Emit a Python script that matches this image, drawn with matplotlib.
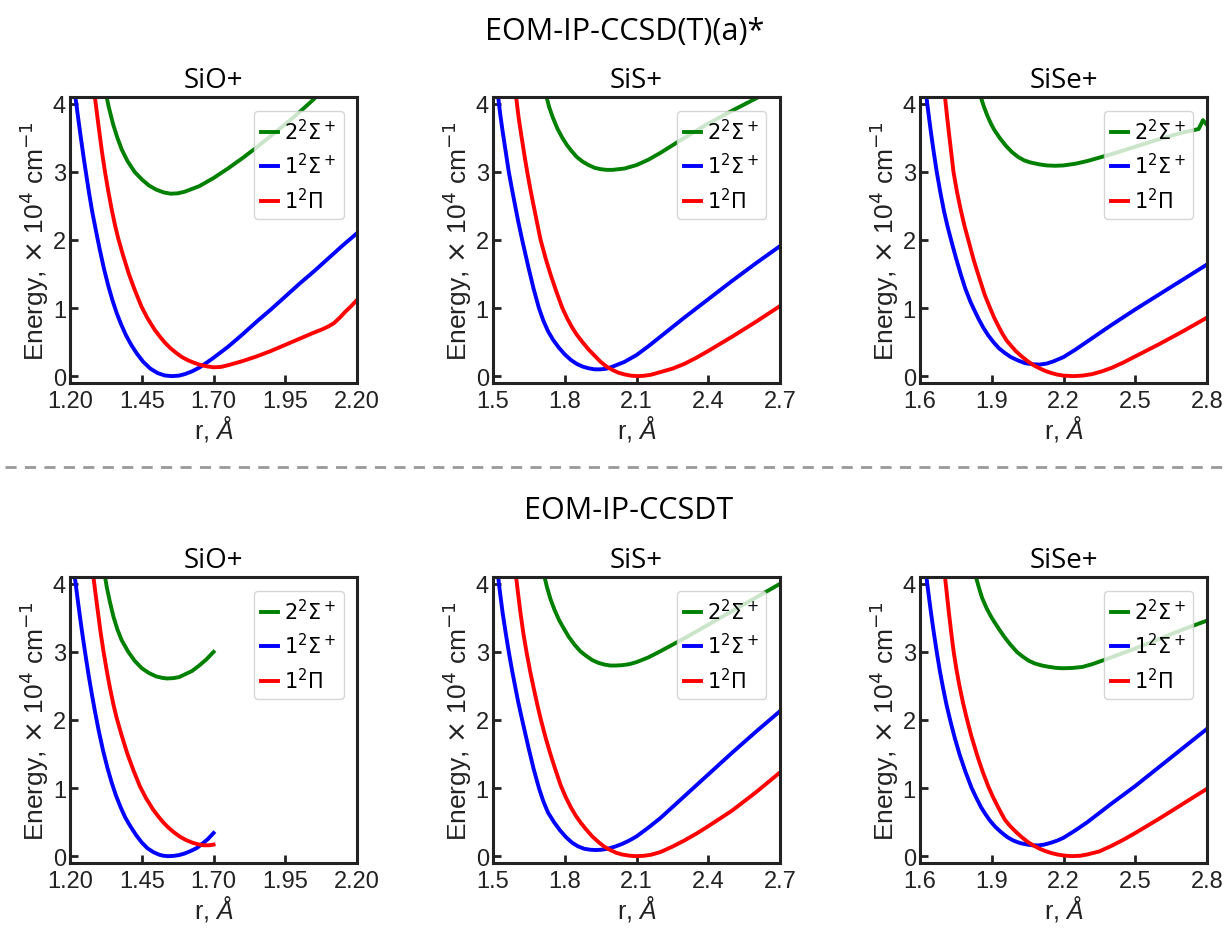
import numpy as np
import matplotlib
matplotlib.use('Agg')
import matplotlib.pyplot as plt
from matplotlib.font_manager import FontProperties

plt.rcParams['font.family'] = ['Liberation Sans', 'DejaVu Sans']
plt.rcParams['mathtext.fontset'] = 'custom'
plt.rcParams['mathtext.rm'] = 'Liberation Sans'
plt.rcParams['mathtext.it'] = 'Liberation Sans:italic'

# ---- data: r in Angstrom, E in 1e4 cm^-1 ----
# EOM-IP-CCSD(T)(a)*  SiO+
r_sio_a_g = [1.325, 1.335, 1.35, 1.365, 1.38, 1.40, 1.425, 1.45, 1.475, 1.50, 1.525, 1.55, 1.575, 1.60, 1.65,
             1.70, 1.75, 1.80, 1.85, 1.90, 1.95, 2.00, 2.05, 2.06]
e_sio_a_g = [4.15, 3.95, 3.70, 3.50, 3.33, 3.16, 3.00, 2.89, 2.80, 2.74, 2.70, 2.68, 2.685, 2.71, 2.79,
             2.91, 3.05, 3.20, 3.36, 3.53, 3.70, 3.88, 4.07, 4.12]
r_sio_a_b = [1.217, 1.227, 1.237, 1.247, 1.257, 1.267, 1.277, 1.29, 1.303, 1.318, 1.333, 1.348, 1.363, 1.378,
             1.395, 1.413, 1.433, 1.455, 1.48, 1.505, 1.53, 1.555, 1.58, 1.60, 1.625, 1.65, 1.675, 1.70, 1.725,
             1.75, 1.80, 1.85, 1.90, 1.95, 2.00, 2.05, 2.10, 2.15, 2.20]
e_sio_a_b = [4.15, 3.83, 3.52, 3.22, 2.94, 2.67, 2.42, 2.14, 1.87, 1.58, 1.33, 1.11, 0.92, 0.76,
             0.60, 0.46, 0.33, 0.21, 0.11, 0.045, 0.01, 0.0, 0.008, 0.03, 0.07, 0.125, 0.195, 0.27, 0.35,
             0.43, 0.61, 0.80, 0.98, 1.17, 1.36, 1.54, 1.73, 1.92, 2.10]
r_sio_a_r = [1.285, 1.293, 1.301, 1.311, 1.321, 1.333, 1.345, 1.357, 1.368, 1.385, 1.405, 1.425, 1.449, 1.47,
             1.495, 1.515, 1.531, 1.55, 1.57, 1.59, 1.61, 1.63, 1.65, 1.675, 1.70, 1.725, 1.75, 1.80, 1.85,
             1.90, 1.95, 2.00, 2.05, 2.08, 2.10, 2.12, 2.14, 2.16, 2.18, 2.20]
e_sio_a_r = [4.15, 3.88, 3.62, 3.30, 3.02, 2.72, 2.45, 2.21, 2.02, 1.77, 1.50, 1.27, 1.02, 0.85,
             0.68, 0.57, 0.49, 0.41, 0.34, 0.28, 0.235, 0.20, 0.17, 0.145, 0.13, 0.135, 0.16, 0.22, 0.29,
             0.37, 0.46, 0.55, 0.64, 0.69, 0.73, 0.78, 0.86, 0.95, 1.03, 1.12]

# EOM-IP-CCSD(T)(a)*  SiS+
r_sis_a_g = [1.72, 1.735, 1.75, 1.77, 1.79, 1.81, 1.83, 1.85, 1.875, 1.90, 1.925, 1.95, 1.975, 2.00, 2.025,
             2.05, 2.10, 2.15, 2.20, 2.30, 2.40, 2.50, 2.60, 2.65]
e_sis_a_g = [4.15, 3.95, 3.80, 3.63, 3.50, 3.39, 3.30, 3.22, 3.15, 3.10, 3.06, 3.04, 3.03, 3.03, 3.04,
             3.05, 3.10, 3.18, 3.28, 3.50, 3.71, 3.90, 4.08, 4.17]
r_sis_a_b = [1.52, 1.53, 1.54, 1.553, 1.566, 1.578, 1.59, 1.605, 1.622, 1.635, 1.65, 1.67, 1.692, 1.71, 1.73,
             1.75, 1.775, 1.80, 1.825, 1.85, 1.875, 1.90, 1.925, 1.95, 1.975, 2.00, 2.05, 2.10, 2.15, 2.20,
             2.30, 2.40, 2.50, 2.60, 2.70]
e_sis_a_b = [4.15, 3.85, 3.60, 3.30, 3.00, 2.77, 2.55, 2.28, 2.00, 1.80, 1.57, 1.28, 1.00, 0.82, 0.66,
             0.54, 0.42, 0.32, 0.24, 0.18, 0.14, 0.115, 0.10, 0.10, 0.11, 0.14, 0.21, 0.31, 0.44, 0.58,
             0.86, 1.13, 1.40, 1.66, 1.91]
r_sis_a_r = [1.595, 1.607, 1.62, 1.632, 1.643, 1.656, 1.67, 1.685, 1.699, 1.72, 1.74, 1.765, 1.79, 1.81, 1.83,
             1.85, 1.874, 1.90, 1.925, 1.95, 1.975, 2.00, 2.025, 2.05, 2.075, 2.105, 2.13, 2.16, 2.20, 2.25,
             2.30, 2.35, 2.40, 2.50, 2.60, 2.70]
e_sis_a_r = [4.15, 3.80, 3.50, 3.23, 3.00, 2.75, 2.50, 2.24, 2.00, 1.73, 1.50, 1.24, 1.00, 0.85, 0.72,
             0.61, 0.50, 0.39, 0.30, 0.21, 0.14, 0.09, 0.05, 0.025, 0.008, 0.0, 0.005, 0.02, 0.06, 0.11,
             0.18, 0.27, 0.37, 0.58, 0.80, 1.03]

# EOM-IP-CCSD(T)(a)*  SiSe+
r_sise_a_g = [1.85, 1.865, 1.88, 1.895, 1.91, 1.935, 1.96, 1.985, 2.01, 2.035, 2.06, 2.10, 2.13, 2.165, 2.20,
              2.25, 2.30, 2.40, 2.50, 2.60, 2.70, 2.74, 2.765, 2.775, 2.783, 2.79, 2.80]
e_sise_a_g = [4.15, 3.98, 3.84, 3.72, 3.62, 3.49, 3.38, 3.29, 3.22, 3.17, 3.14, 3.11, 3.095, 3.09, 3.095,
              3.12, 3.16, 3.26, 3.37, 3.48, 3.58, 3.61, 3.63, 3.70, 3.76, 3.73, 3.69]
r_sise_a_b = [1.625, 1.635, 1.645, 1.657, 1.67, 1.685, 1.70, 1.715, 1.733, 1.75, 1.77, 1.79, 1.81, 1.823,
              1.845, 1.865, 1.885, 1.907, 1.93, 1.955, 1.98, 2.01, 2.04, 2.07, 2.10, 2.13, 2.16, 2.20, 2.25,
              2.30, 2.40, 2.50, 2.60, 2.70, 2.80]
e_sise_a_b = [4.15, 3.87, 3.60, 3.30, 3.00, 2.70, 2.43, 2.20, 1.96, 1.74, 1.50, 1.28, 1.10, 1.00,
              0.84, 0.71, 0.60, 0.50, 0.41, 0.34, 0.28, 0.23, 0.19, 0.175, 0.17, 0.185, 0.22, 0.28, 0.39,
              0.51, 0.75, 0.98, 1.20, 1.42, 1.64]
r_sise_a_r = [1.703, 1.712, 1.72, 1.73, 1.74, 1.755, 1.77, 1.785, 1.802, 1.825, 1.85, 1.87, 1.893, 1.91, 1.93,
              1.945, 1.963, 1.98, 2.00, 2.025, 2.05, 2.075, 2.10, 2.125, 2.15, 2.175, 2.20, 2.242, 2.28, 2.32,
              2.36, 2.40, 2.45, 2.50, 2.60, 2.70, 2.80]
e_sise_a_r = [4.15, 3.85, 3.60, 3.30, 3.00, 2.70, 2.45, 2.22, 2.00, 1.70, 1.42, 1.20, 1.00, 0.86, 0.72,
              0.62, 0.52, 0.45, 0.37, 0.29, 0.22, 0.16, 0.115, 0.075, 0.045, 0.022, 0.008, 0.0, 0.008, 0.03,
              0.07, 0.12, 0.20, 0.29, 0.47, 0.66, 0.86]

# EOM-IP-CCSDT  SiO+
r_sio_t_g = [1.32, 1.328, 1.338, 1.351, 1.365, 1.38, 1.403, 1.425, 1.45, 1.475, 1.50, 1.52, 1.537, 1.56, 1.58,
             1.60, 1.625, 1.65, 1.675, 1.70]
e_sio_t_g = [4.15, 3.95, 3.75, 3.52, 3.33, 3.17, 3.00, 2.87, 2.76, 2.69, 2.64, 2.62, 2.61, 2.615, 2.63,
             2.67, 2.72, 2.80, 2.89, 3.00]
r_sio_t_b = [1.215, 1.225, 1.235, 1.245, 1.255, 1.265, 1.275, 1.287, 1.30, 1.315, 1.33, 1.345, 1.36, 1.375,
             1.392, 1.41, 1.43, 1.45, 1.47, 1.49, 1.51, 1.525, 1.543, 1.56, 1.58, 1.60, 1.62, 1.642, 1.66,
             1.68, 1.70]
e_sio_t_b = [4.15, 3.82, 3.50, 3.20, 2.92, 2.65, 2.40, 2.12, 1.84, 1.55, 1.30, 1.08, 0.89, 0.73,
             0.57, 0.44, 0.31, 0.20, 0.115, 0.06, 0.022, 0.006, 0.0, 0.004, 0.016, 0.04, 0.075, 0.12, 0.18,
             0.25, 0.34]
r_sio_t_r = [1.28, 1.288, 1.296, 1.306, 1.316, 1.328, 1.34, 1.352, 1.363, 1.38, 1.40, 1.42, 1.444, 1.465,
             1.49, 1.51, 1.526, 1.545, 1.565, 1.585, 1.605, 1.625, 1.645, 1.665, 1.685, 1.70]
e_sio_t_r = [4.15, 3.88, 3.62, 3.30, 3.02, 2.72, 2.45, 2.21, 2.02, 1.77, 1.50, 1.27, 1.02, 0.85,
             0.68, 0.57, 0.49, 0.41, 0.34, 0.28, 0.235, 0.20, 0.175, 0.16, 0.16, 0.17]

# EOM-IP-CCSDT  SiS+
r_sis_t_g = [1.712, 1.725, 1.74, 1.757, 1.776, 1.795, 1.815, 1.84, 1.865, 1.89, 1.915, 1.94, 1.965, 1.99,
             2.013, 2.04, 2.07, 2.10, 2.15, 2.20, 2.30, 2.40, 2.50, 2.60, 2.70]
e_sis_t_g = [4.15, 3.96, 3.78, 3.62, 3.47, 3.35, 3.23, 3.11, 3.01, 2.94, 2.88, 2.84, 2.815, 2.80,
             2.80, 2.805, 2.82, 2.85, 2.92, 3.01, 3.20, 3.40, 3.60, 3.80, 4.00]
r_sis_t_b = [1.52, 1.53, 1.54, 1.553, 1.566, 1.578, 1.59, 1.605, 1.622, 1.635, 1.65, 1.67, 1.692, 1.71, 1.73,
             1.755, 1.78, 1.805, 1.83, 1.855, 1.88, 1.905, 1.93, 1.955, 1.98, 2.01, 2.04, 2.07, 2.10, 2.15,
             2.20, 2.30, 2.40, 2.50, 2.60, 2.70]
e_sis_t_b = [4.15, 3.85, 3.58, 3.28, 3.00, 2.76, 2.54, 2.27, 2.00, 1.80, 1.57, 1.28, 1.00, 0.81, 0.64,
             0.50, 0.38, 0.28, 0.20, 0.145, 0.11, 0.095, 0.09, 0.095, 0.11, 0.14, 0.18, 0.23, 0.29, 0.42,
             0.56, 0.88, 1.20, 1.52, 1.83, 2.13]
r_sis_t_r = [1.595, 1.605, 1.615, 1.627, 1.64, 1.655, 1.67, 1.685, 1.699, 1.72, 1.74, 1.76, 1.783, 1.805,
             1.825, 1.845, 1.867, 1.89, 1.915, 1.94, 1.965, 1.99, 2.015, 2.04, 2.07, 2.098, 2.13, 2.16, 2.20,
             2.25, 2.30, 2.35, 2.40, 2.50, 2.60, 2.70]
e_sis_t_r = [4.15, 3.85, 3.57, 3.27, 3.00, 2.72, 2.47, 2.23, 2.02, 1.74, 1.50, 1.28, 1.04, 0.86,
             0.72, 0.60, 0.49, 0.39, 0.29, 0.21, 0.14, 0.09, 0.05, 0.024, 0.007, 0.0, 0.005, 0.02, 0.06,
             0.14, 0.23, 0.33, 0.44, 0.67, 0.94, 1.23]

# EOM-IP-CCSDT  SiSe+
r_sise_t_g = [1.83, 1.845, 1.86, 1.88, 1.90, 1.92, 1.935, 1.955, 1.975, 1.99, 2.005, 2.03, 2.055, 2.08, 2.11,
              2.14, 2.17, 2.20, 2.24, 2.28, 2.32, 2.36, 2.40, 2.50, 2.60, 2.70, 2.80]
e_sise_t_g = [4.15, 3.96, 3.79, 3.63, 3.50, 3.39, 3.31, 3.21, 3.12, 3.06, 3.00, 2.93, 2.87, 2.83, 2.80,
              2.78, 2.765, 2.76, 2.765, 2.78, 2.82, 2.87, 2.92, 3.05, 3.19, 3.33, 3.46]
r_sise_t_b = [1.625, 1.635, 1.645, 1.657, 1.67, 1.683, 1.697, 1.711, 1.726, 1.745, 1.765, 1.79, 1.816, 1.835,
              1.855, 1.875, 1.893, 1.915, 1.94, 1.965, 1.99, 2.02, 2.05, 2.07, 2.095, 2.12, 2.15, 2.175, 2.20,
              2.25, 2.30, 2.40, 2.50, 2.60, 2.70, 2.80]
e_sise_t_b = [4.15, 3.87, 3.60, 3.30, 3.00, 2.72, 2.46, 2.22, 2.00, 1.74, 1.50, 1.24, 1.00, 0.86,
              0.72, 0.61, 0.52, 0.43, 0.35, 0.28, 0.23, 0.19, 0.17, 0.16, 0.158, 0.17, 0.20, 0.23, 0.27,
              0.38, 0.50, 0.77, 1.03, 1.31, 1.59, 1.87]
r_sise_t_r = [1.703, 1.712, 1.72, 1.73, 1.74, 1.752, 1.765, 1.78, 1.795, 1.815, 1.84, 1.862, 1.886, 1.905,
              1.925, 1.94, 1.956, 1.975, 2.00, 2.025, 2.05, 2.075, 2.10, 2.125, 2.15, 2.175, 2.20, 2.235, 2.27,
              2.30, 2.35, 2.40, 2.45, 2.50, 2.60, 2.70, 2.80]
e_sise_t_r = [4.15, 3.86, 3.60, 3.30, 3.02, 2.75, 2.50, 2.25, 2.03, 1.76, 1.47, 1.24, 1.02, 0.87,
              0.73, 0.63, 0.53, 0.45, 0.36, 0.28, 0.21, 0.155, 0.11, 0.073, 0.045, 0.024, 0.01, 0.0, 0.006,
              0.025, 0.07, 0.15, 0.24, 0.34, 0.55, 0.77, 0.99]

titles = ['SiO+', 'SiS+', 'SiSe+']
xlims = [(1.2, 2.2), (1.5, 2.7), (1.6, 2.8)]
xticks = [[1.20, 1.45, 1.70, 1.95, 2.20], [1.5, 1.8, 2.1, 2.4, 2.7], [1.6, 1.9, 2.2, 2.5, 2.8]]
xfmt = ['%.2f', '%.1f', '%.1f']
labels = ['$2^2\\Sigma^+$', '$1^2\\Sigma^+$', '$1^2\\Pi$']
colors = ['green', 'blue', 'red']

rows = [
    [(r_sio_a_g, e_sio_a_g, r_sio_a_b, e_sio_a_b, r_sio_a_r, e_sio_a_r),
     (r_sis_a_g, e_sis_a_g, r_sis_a_b, e_sis_a_b, r_sis_a_r, e_sis_a_r),
     (r_sise_a_g, e_sise_a_g, r_sise_a_b, e_sise_a_b, r_sise_a_r, e_sise_a_r)],
    [(r_sio_t_g, e_sio_t_g, r_sio_t_b, e_sio_t_b, r_sio_t_r, e_sio_t_r),
     (r_sis_t_g, e_sis_t_g, r_sis_t_b, e_sis_t_b, r_sis_t_r, e_sis_t_r),
     (r_sise_t_g, e_sise_t_g, r_sise_t_b, e_sise_t_b, r_sise_t_r, e_sise_t_r)],
]

fig = plt.figure(figsize=(12.27, 9.29), dpi=100)

lefts = [0.0571, 0.4018, 0.7498]
bottoms = [0.5867, 0.0700]
W, H = 0.2339, 0.3078

leg_prop = FontProperties(family='DejaVu Sans', size=15, math_fontfamily='dejavusans')

for i in range(2):
    for j in range(3):
        ax = fig.add_axes([lefts[j], bottoms[i], W, H])
        d = rows[i][j]
        for k in range(3):
            ax.plot(d[2*k], d[2*k+1], color=colors[k], lw=2.8, label=labels[k])
        ax.set_xlim(xlims[j])
        ax.set_ylim(-0.1, 4.1)
        ax.set_xticks(xticks[j])
        ax.set_xticklabels([xfmt[j] % v for v in xticks[j]])
        ax.set_yticks([0, 1, 2, 3, 4])
        ax.tick_params(direction='in', length=6, width=2, labelsize=17, colors='#222222')
        ax.tick_params(axis='x', pad=5)
        ax.tick_params(axis='y', pad=3)
        for s in ax.spines.values():
            s.set_linewidth(2.2)
            s.set_color('#222222')
        ax.set_ylabel('Energy, $\\times$ 10$^4$ cm$^{-1}$', fontsize=19, color='#222222',
                      math_fontfamily='dejavusans', labelpad=1)
        ax.set_xlabel('r, $\\mathit{Å}$', fontsize=18, color='#222222', labelpad=1)
        ax.set_title(titles[j], family='Open Sans', fontsize=20, pad=7)
        ax.legend(loc='upper right', prop=leg_prop, handlelength=0.8, handletextpad=0.3,
                  labelspacing=0.45, borderpad=0.35, borderaxespad=0.65, framealpha=0.8,
                  edgecolor='#cccccc')

fig.text(0.509, 0.966, 'EOM-IP-CCSD(T)(a)*', family='Open Sans', fontsize=22, ha='center', va='center')
fig.text(0.512, 0.450, 'EOM-IP-CCSDT', family='Open Sans', fontsize=22, ha='center', va='center')
fig.add_artist(plt.Line2D([0.004, 1.0], [0.496, 0.496], transform=fig.transFigure,
                          color='#999999', lw=2, ls=(0, (4, 3))))

fig.savefig('out.png', dpi=100)
